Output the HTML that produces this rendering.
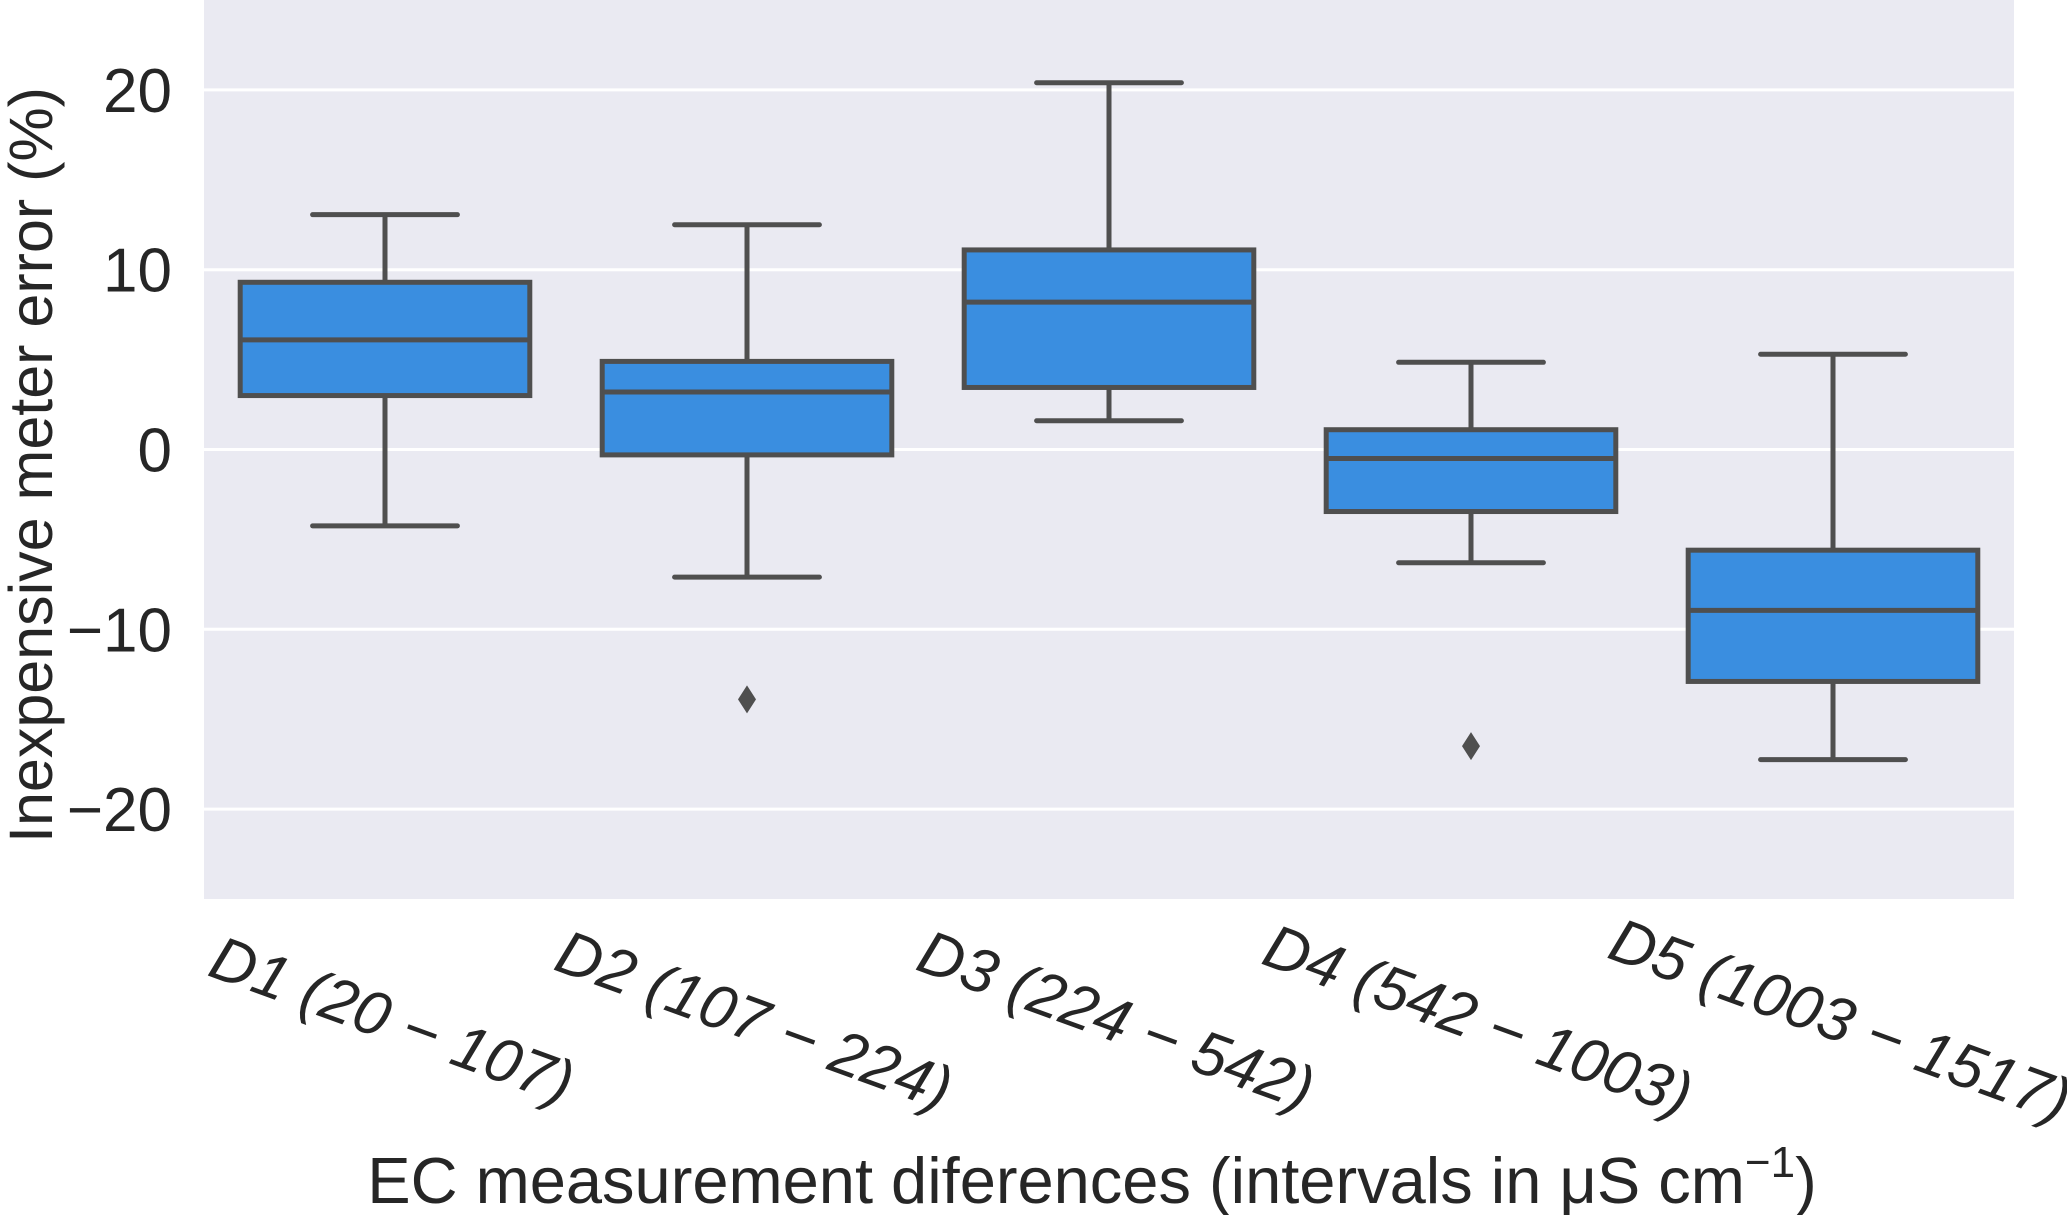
<!DOCTYPE html>
<html><head><meta charset="utf-8"><style>
html,body{margin:0;padding:0;background:#fff;}
svg{display:block;font-family:"Liberation Sans",Arial,sans-serif;}
</style></head><body>
<svg id="chart" width="2067" height="1215" viewBox="0 0 2067 1215">
<rect x="204" y="0" width="1810" height="899" fill="#eaeaf2"/>
<g id="grid"></g>
<g id="yticks"></g>
<g id="boxes"></g>
<g id="xticks"></g>
<text transform="translate(52,465) rotate(-90)" text-anchor="middle" font-size="61" fill="#262626">Inexpensive meter error (%)</text>
<text x="1092" y="1203" text-anchor="middle" font-size="65" fill="#262626">EC measurement diferences (intervals in μS cm<tspan dy="-26" font-size="44">−1</tspan><tspan dy="26">)</tspan></text>
</svg>
<script>
const categories = ["D1 (20 − 107)", "D2 (107 − 224)", "D3 (224 − 542)", "D4 (542 − 1003)", "D5 (1003 − 1517)"];
const whiskerLow = [-4.25, -7.1, 1.6, -6.3, -17.25];
const q1 = [3.0, -0.3, 3.45, -3.45, -12.9];
const median = [6.1, 3.2, 8.2, -0.5, -8.95];
const q3 = [9.3, 4.9, 11.1, 1.1, -5.6];
const whiskerHigh = [13.06, 12.5, 20.4, 4.85, 5.3];
const outliers = [[], [-13.9], [], [-16.5], []];
const yTicks = [-20, -10, 0, 10, 20];
const yTickLabels = ["−20", "−10", "0", "10", "20"];

const NS = "http://www.w3.org/2000/svg";
const L = 204, R = 2014, T = 0, B = 899, yMin = -25, yMax = 25;
const band = (R - L) / categories.length;
function xc(i){ return L + band * (i + 0.5); }
function y(v){ return B - (v - yMin) / (yMax - yMin) * (B - T); }
function mk(tag, attrs, parent){ const e = document.createElementNS(NS, tag); for (const k in attrs) e.setAttribute(k, attrs[k]); parent.appendChild(e); return e; }
const grid = document.getElementById('grid'), yt = document.getElementById('yticks'), bx = document.getElementById('boxes'), xt = document.getElementById('xticks');
const lc = "#4f4f4f", lw = 5;

yTicks.forEach((t, i) => {
  const g = mk('line', {x1: L, x2: R, y1: y(t), y2: y(t), stroke: '#fff', 'stroke-width': 3}, grid);
  
  
  const tx = mk('text', {x: 172, y: y(t) + 22, 'text-anchor': 'end', 'font-size': 62, fill: '#262626'}, yt);
  tx.textContent = yTickLabels[i];
  
  
});

categories.forEach((c, i) => {
  const cx = xc(i), w = band * 0.8, cw = w * 0.5;
  const g = mk('g', {}, bx);
  
  
  mk('line', {x1: cx, x2: cx, y1: y(whiskerHigh[i]), y2: y(q3[i]), stroke: lc, 'stroke-width': lw}, g);
  mk('line', {x1: cx, x2: cx, y1: y(q1[i]), y2: y(whiskerLow[i]), stroke: lc, 'stroke-width': lw}, g);
  mk('line', {x1: cx - cw/2, x2: cx + cw/2, y1: y(whiskerHigh[i]), y2: y(whiskerHigh[i]), stroke: lc, 'stroke-width': lw, 'stroke-linecap': 'round'}, g);
  mk('line', {x1: cx - cw/2, x2: cx + cw/2, y1: y(whiskerLow[i]), y2: y(whiskerLow[i]), stroke: lc, 'stroke-width': lw, 'stroke-linecap': 'round'}, g);
  mk('rect', {x: cx - w/2, y: y(q3[i]), width: w, height: y(q1[i]) - y(q3[i]), fill: '#3a8ee0', stroke: lc, 'stroke-width': lw}, g);
  mk('line', {x1: cx - w/2, x2: cx + w/2, y1: y(median[i]), y2: y(median[i]), stroke: lc, 'stroke-width': lw}, g);
  outliers[i].forEach(o => {
    const oy = y(o);
    const d = mk('polygon', {points: `${cx},${oy-14} ${cx+9},${oy} ${cx},${oy+14} ${cx-9},${oy}`, fill: lc}, g);
    
    
  });
  const tx = mk('text', {transform: `translate(${cx},${1040}) rotate(20)`, 'text-anchor': 'middle', 'font-size': 62, 'font-style': 'italic', fill: '#262626'}, xt);
  tx.textContent = c;
  
  
});
</script>
</body></html>
